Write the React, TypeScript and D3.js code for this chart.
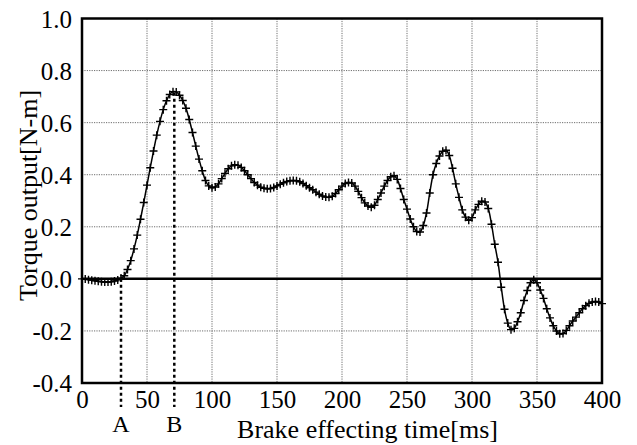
import React, { useEffect, useRef } from 'react';
import * as d3 from 'd3';

// sample spacing of the recorded torque trace
const SAMPLE_MS = 2.5;

// torque output [N-m], one value every SAMPLE_MS from 0 to 400 ms
const torque = [
  0.000, -0.001, -0.003, -0.005, -0.007, -0.009, -0.011, -0.012, -0.012, -0.011, -0.008, -0.004,
  0.003, 0.012, 0.036, 0.070, 0.115, 0.168, 0.229, 0.293, 0.360, 0.427, 0.491, 0.552, 0.605, 0.650,
  0.684, 0.708, 0.719, 0.718, 0.705, 0.685, 0.655, 0.612, 0.562, 0.510, 0.460, 0.415, 0.378, 0.357,
  0.350, 0.353, 0.365, 0.385, 0.405, 0.423, 0.434, 0.438, 0.436, 0.428, 0.415, 0.400, 0.385, 0.370,
  0.360, 0.352, 0.348, 0.346, 0.347, 0.351,
  0.357, 0.363, 0.369, 0.374, 0.377, 0.378, 0.377, 0.373, 0.366, 0.358, 0.350, 0.342, 0.333, 0.325,
  0.318, 0.314, 0.313, 0.317, 0.328, 0.342,
  0.356, 0.366, 0.370, 0.368, 0.356, 0.336, 0.312, 0.292, 0.280, 0.275, 0.283, 0.305, 0.330, 0.356,
  0.378, 0.392, 0.396, 0.382, 0.347, 0.305,
  0.268, 0.230, 0.200, 0.182, 0.180, 0.205, 0.253, 0.330, 0.400, 0.443, 0.472, 0.490, 0.494, 0.474,
  0.425, 0.365, 0.313, 0.265, 0.237, 0.225,
  0.235, 0.265, 0.286, 0.298, 0.295, 0.270, 0.210, 0.133, 0.064, -0.032, -0.117, -0.170, -0.195, -0.190,
  -0.165, -0.130, -0.083, -0.045, -0.015, -0.003,
  -0.015, -0.043, -0.075, -0.115, -0.150, -0.180, -0.200, -0.211, -0.210, -0.198, -0.180, -0.162,
  -0.147, -0.130, -0.115, -0.103, -0.094, -0.089, -0.087, -0.089, -0.095,
];

const xTicks = [0, 50, 100, 150, 200, 250, 300, 350, 400];
const yTicks = [-0.4, -0.2, 0.0, 0.2, 0.4, 0.6, 0.8, 1.0];

// the two marked instants (A: torque starts, B: peak torque)
const eventLabels = ['A', 'B'];
const eventTimes = [30, 71];
const eventTops = [0.0, 0.715];

const FONT = 'Liberation Serif, serif';

const App = () => {
  const ref = useRef<SVGSVGElement>(null);

  useEffect(() => {
    const left = 82, right = 602, top = 18.5, bottom = 383;

    const svg = d3.select(ref.current);
    svg.selectAll('*').remove();

    const x = d3.scaleLinear().domain([0, 400]).range([left, right]);
    const y = d3.scaleLinear().domain([-0.4, 1.0]).range([bottom, top]);

    const data = torque.map((v, i) => ({ t: i * SAMPLE_MS, v }));

    // grid
    const grid = svg.append('g')
      .attr('stroke', '#6e6e6e')
      .attr('stroke-width', 1)
      .attr('stroke-dasharray', '1.2,1.2');
    grid.selectAll('.gx')
      .data(xTicks.slice(1, -1))
      .enter().append('line')
      .attr('x1', d => x(d)).attr('x2', d => x(d))
      .attr('y1', top).attr('y2', bottom);
    grid.selectAll('.gy')
      .data(yTicks.filter(d => d !== 0 && d !== -0.4 && d !== 1.0))
      .enter().append('line')
      .attr('x1', left).attr('x2', right)
      .attr('y1', d => y(d)).attr('y2', d => y(d));

    // zero line
    svg.append('line')
      .attr('x1', left).attr('x2', right)
      .attr('y1', y(0)).attr('y2', y(0))
      .attr('stroke', '#000').attr('stroke-width', 2.5);

    // event lines A / B
    svg.selectAll('.ev')
      .data(eventTimes)
      .enter().append('line')
      .attr('x1', d => x(d)).attr('x2', d => x(d))
      .attr('y1', (d, i) => y(eventTops[i]))
      .attr('y2', 407)
      .attr('stroke', '#000')
      .attr('stroke-width', 2.5)
      .attr('stroke-dasharray', '3,3');

    svg.selectAll('.evl')
      .data(eventTimes)
      .enter().append('text')
      .attr('x', d => x(d))
      .attr('y', 431.5)
      .attr('text-anchor', 'middle')
      .style('font-family', FONT)
      .style('font-size', '24px')
      .text((d, i) => eventLabels[i]);

    // curve
    const line = d3.line<{ t: number; v: number }>()
      .x(d => x(d.t))
      .y(d => y(d.v))
      .curve(d3.curveCatmullRom);

    svg.append('path')
      .datum(data)
      .attr('d', line)
      .attr('fill', 'none')
      .attr('stroke', '#000')
      .attr('stroke-width', 1.5);

    // "+" markers
    svg.selectAll('.mk')
      .data(data)
      .enter().append('path')
      .attr('d', d => {
        const cx = x(d.t), cy = y(d.v), r = 4;
        return `M${cx - r},${cy}H${cx + r}M${cx},${cy - r}V${cy + r}`;
      })
      .attr('stroke', '#000')
      .attr('stroke-width', 1.4)
      .attr('fill', 'none');

    // frame
    svg.append('rect')
      .attr('x', left).attr('y', top)
      .attr('width', right - left).attr('height', bottom - top)
      .attr('fill', 'none')
      .attr('stroke', '#000')
      .attr('stroke-width', 2.5);

    // tick labels
    const yAxis = svg.append('g')
      .attr('transform', `translate(${left},0)`)
      .call(d3.axisLeft(y).tickValues(yTicks).tickSize(0).tickPadding(10)
        .tickFormat(d => (+d).toFixed(1)));
    yAxis.select('.domain').remove();
    yAxis.selectAll('text')
      .attr('fill', '#000')
      .attr('dy', '0.34em')
      .style('font-family', FONT)
      .style('font-size', '25px');

    const xAxis = svg.append('g')
      .attr('transform', `translate(0,${bottom})`)
      .call(d3.axisBottom(x).tickValues(xTicks).tickSize(0).tickPadding(7)
        .tickFormat(d => String(d)));
    xAxis.select('.domain').remove();
    xAxis.selectAll('text')
      .attr('fill', '#000')
      .style('font-family', FONT)
      .style('font-size', '25px');

    // axis titles
    svg.append('text')
      .attr('x', 367.5)
      .attr('y', 438)
      .attr('text-anchor', 'middle')
      .style('font-family', FONT)
      .style('font-size', '26px')
      .text('Brake effecting time[ms]');

    svg.append('text')
      .attr('transform', 'translate(37,195.5) rotate(-90)')
      .attr('text-anchor', 'middle')
      .style('font-family', FONT)
      .style('font-size', '26px')
      .text('Torque output[N-m]');
  }, []);

  return (
    <svg
      ref={ref}
      width={637}
      height={445}
      style={{ position: 'absolute', left: 0, top: 0, background: '#fff' }}
    />
  );
};

export default App;
